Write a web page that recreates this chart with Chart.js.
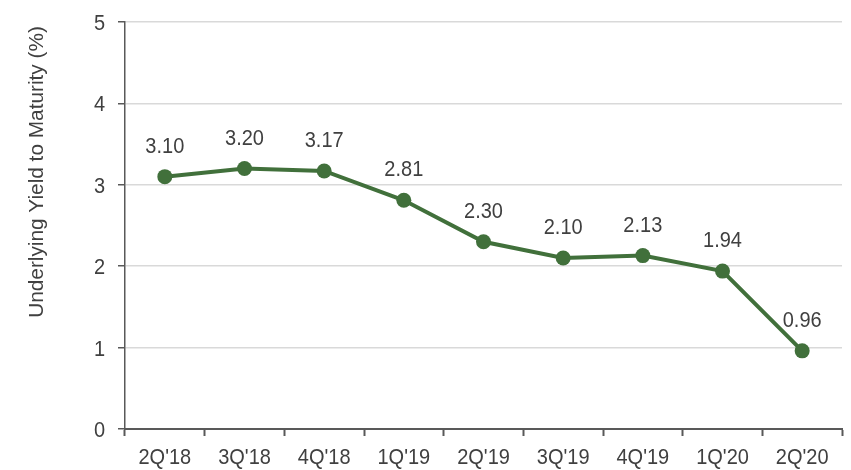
<!DOCTYPE html>
<html>
<head>
<meta charset="utf-8">
<script src="https://cdn.jsdelivr.net/npm/chart.js@4/dist/chart.umd.min.js"></script>
<style>
  html, body { margin: 0; padding: 0; background: #ffffff; }
  #wrap { width: 851px; height: 470px; position: relative; }
</style>
</head>
<body>
<div id="wrap"><canvas id="c" width="851" height="470"></canvas></div>
<script>
const categories = ["2Q'18", "3Q'18", "4Q'18", "1Q'19", "2Q'19", "3Q'19", "4Q'19", "1Q'20", "2Q'20"];
const yieldValues = [3.10, 3.20, 3.17, 2.81, 2.30, 2.10, 2.13, 1.94, 0.96];
const yTicks = [0, 1, 2, 3, 4, 5];
const yTitle = "Underlying Yield to Maturity (%)";

const FONT = '"Liberation Sans", Arial, sans-serif';
const GREEN = '#41703b';
const TEXT = '#404040';
const AXIS = '#595959';
const VSTRETCH = 1.1;

function stretchedText(ctx, text, x, y, align) {
  ctx.save();
  ctx.translate(x, y);
  ctx.scale(1, VSTRETCH);
  ctx.textAlign = align;
  ctx.textBaseline = 'middle';
  ctx.fillText(text, 0, 0);
  ctx.restore();
}

const textPlugin = {
  id: 'customText',
  afterDraw(chart) {
    const ctx = chart.ctx;
    const xs = chart.scales.x;
    const ys = chart.scales.y;
    const area = chart.chartArea;
    ctx.save();
    ctx.fillStyle = TEXT;
    ctx.font = '20px ' + FONT;
    // data labels
    const meta = chart.getDatasetMeta(0);
    meta.data.forEach((pt, i) => {
      stretchedText(ctx, yieldValues[i].toFixed(2), pt.x, pt.y - 30, 'center');
    });
    // x tick labels
    categories.forEach((c, i) => {
      stretchedText(ctx, c, xs.getPixelForTick(i), area.bottom + 29, 'center');
    });
    // y tick labels
    yTicks.forEach(v => {
      stretchedText(ctx, String(v), area.left - 20, ys.getPixelForValue(v) + 2, 'right');
    });
    // y title
    ctx.save();
    ctx.translate(37, 172);
    ctx.rotate(-Math.PI / 2);
    ctx.scale(1.04, 1);
    ctx.textAlign = 'center';
    ctx.textBaseline = 'middle';
    ctx.fillText(yTitle, 0, 0);
    ctx.restore();
    ctx.restore();
  }
};

new Chart(document.getElementById('c'), {
  type: 'line',
  data: {
    labels: categories,
    datasets: [{
      data: yieldValues,
      borderColor: GREEN,
      backgroundColor: GREEN,
      borderWidth: 4,
      pointRadius: 7.5,
      pointHoverRadius: 7.5,
      pointBackgroundColor: GREEN,
      pointBorderColor: GREEN,
      pointBorderWidth: 0,
      tension: 0
    }]
  },
  options: {
    responsive: false,
    animation: false,
    devicePixelRatio: 1,
    layout: { padding: { top: 19, right: 9, left: 0, bottom: 0 } },
    plugins: { legend: { display: false }, tooltip: { enabled: false } },
    scales: {
      x: {
        offset: true,
        grid: {
          offset: true,
          drawOnChartArea: false,
          drawTicks: true,
          tickLength: 7,
          tickColor: AXIS,
          tickWidth: 2
        },
        border: { color: AXIS, width: 2 },
        ticks: {
          color: 'rgba(0,0,0,0)',
          font: { family: FONT, size: 20 },
          padding: 6,
          maxRotation: 0,
          autoSkip: false
        },
        afterFit(scale) { scale.height = 41; }
      },
      y: {
        min: 0,
        max: 5,
        afterBuildTicks(scale) { scale.ticks = yTicks.map(v => ({ value: v })); },
        grid: {
          color: '#d9d9d9',
          lineWidth: 1.5,
          drawTicks: true,
          tickLength: 7,
          tickColor: AXIS,
          tickWidth: 1.5
        },
        border: { color: AXIS, width: 1.5 },
        ticks: {
          color: 'rgba(0,0,0,0)',
          font: { family: FONT, size: 20 },
          padding: 10
        },
        title: { display: false },
        afterFit(scale) { scale.width = 125; }
      }
    }
  },
  plugins: [textPlugin]
});
</script>
</body>
</html>
